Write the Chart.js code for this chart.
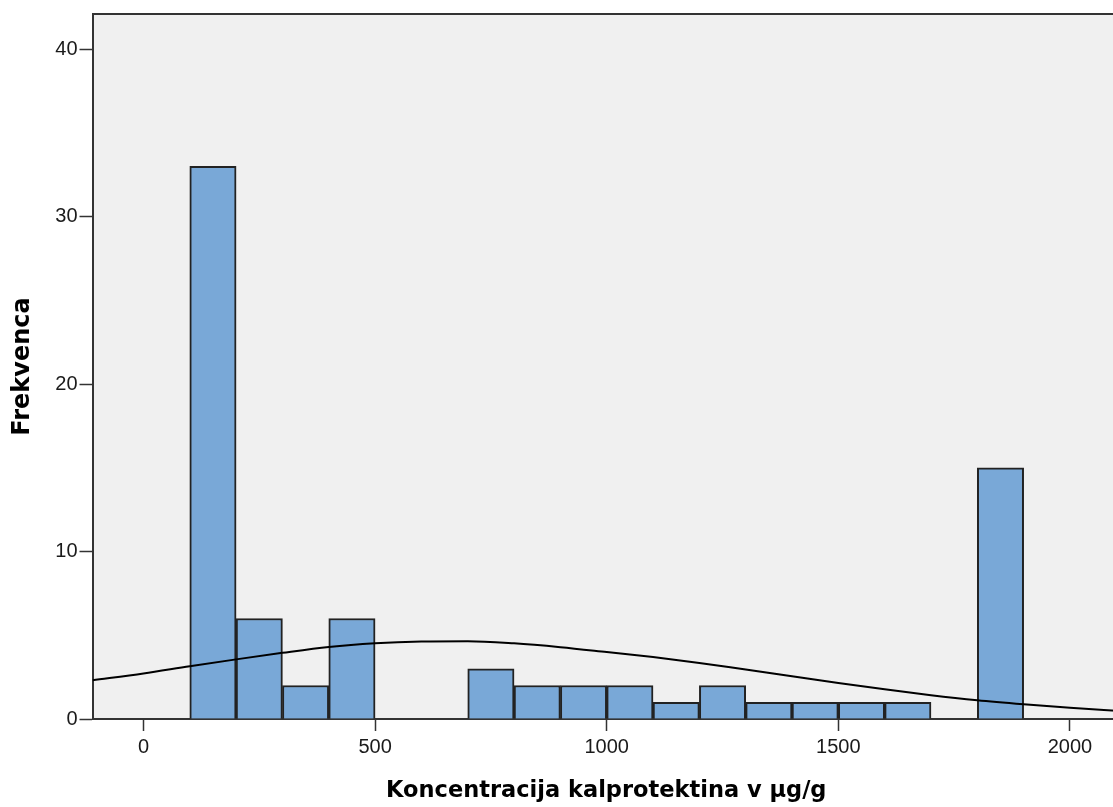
<!DOCTYPE html>
<html>
<head>
<meta charset="utf-8">
<script src="https://cdn.jsdelivr.net/npm/chart.js@4/dist/chart.umd.min.js"></script>
<style>
  body { margin: 0; overflow: hidden; background: #fff; }
  #wrap { width: 1120px; height: 807px; position: relative; }
</style>
</head>
<body>
<div id="wrap"><canvas id="chart"></canvas></div>
<script>
// histogram bins (lower edge) and frequencies
const binStart = [100, 200, 300, 400, 700, 800, 900, 1000, 1100, 1200, 1300, 1400, 1500, 1600, 1800];
const counts = [33, 6, 2, 6, 3, 2, 2, 2, 1, 2, 1, 1, 1, 1, 15];
const binWidth = 100;

// normal curve
const curveX = [-110, 0, 100, 200, 300, 400, 500, 600, 700, 800, 900, 1000, 1100, 1200, 1300, 1400, 1500, 1600, 1700, 1800, 1900, 2000, 2110];
const curveY = [2.31, 2.72, 3.15, 3.56, 3.95, 4.3, 4.52, 4.63, 4.65, 4.52, 4.29, 4.0, 3.7, 3.35, 2.95, 2.55, 2.15, 1.77, 1.42, 1.12, 0.88, 0.67, 0.48];

const xTicks = [0, 500, 1000, 1500, 2000];
const yTicks = [0, 10, 20, 30, 40];

const xTitle = 'Koncentracija kalprotektina v µg/g';
const yTitle = 'Frekvenca';

const bars = binStart.map((b, i) => ({ x: b + binWidth / 2, y: counts[i] }));
const curve = curveX.map((x, i) => ({ x: x, y: curveY[i] }));

// grey plot background and top frame line
const frame = {
    id: 'frame',
    beforeDraw(chart) {
        const a = chart.chartArea;
        const ctx = chart.ctx;
        ctx.save();
        ctx.fillStyle = '#f0f0f0';
        ctx.fillRect(a.left, a.top, a.right - a.left, a.bottom - a.top);
        ctx.restore();
    },
    afterDraw(chart) {
        const a = chart.chartArea;
        const ctx = chart.ctx;
        ctx.save();
        ctx.strokeStyle = '#333';
        ctx.lineWidth = 2;
        ctx.beginPath();
        ctx.moveTo(a.left, a.top);
        ctx.lineTo(a.right + 5, a.top);
        ctx.stroke();
        ctx.restore();
    }
};

new Chart(document.getElementById('chart'), {
    type: 'bar',
    data: {
        datasets: [{
            type: 'line',
            data: curve,
            borderColor: '#000',
            borderWidth: 2,
            pointRadius: 0,
            cubicInterpolationMode: 'monotone',
            order: 0
        }, {
            type: 'bar',
            data: bars,
            backgroundColor: '#79a8d7',
            borderColor: '#222',
            borderWidth: 2,
            barPercentage: 1,
            categoryPercentage: 1,
            order: 1
        }]
    },
    options: {
        responsive: true,
        maintainAspectRatio: false,
        animation: false,
        layout: { padding: 0 },
        plugins: { legend: { display: false }, tooltip: { enabled: false } },
        scales: {
            x: {
                type: 'linear',
                min: -110,
                max: 2108,
                offset: false,
                afterFit: s => { s.height = 88; },
                afterBuildTicks: s => { s.ticks = xTicks.map(v => ({ value: v })); },
                grid: { offset: false, drawOnChartArea: false, drawTicks: true, tickLength: 12, tickWidth: 1.5, tickColor: '#333' },
                border: { display: true, color: '#333', width: 2 },
                ticks: {
                    padding: 4,
                    maxRotation: 0,
                    color: '#1a1a1a',
                    font: { family: 'Liberation Sans', size: 20 },
                    callback: v => String(v)
                },
                title: {
                    display: true,
                    text: xTitle,
                    color: '#000',
                    padding: { top: 0, bottom: 2 },
                    font: { family: 'DejaVu Sans', size: 22.5, weight: 'bold' }
                }
            },
            y: {
                min: 0,
                max: 42.1,
                afterFit: s => { s.width = 92.5; },
                afterBuildTicks: s => { s.ticks = yTicks.map(v => ({ value: v })); },
                grid: { drawOnChartArea: false, drawTicks: true, tickLength: 13, tickWidth: 1.5, tickColor: '#333' },
                border: { display: true, color: '#333', width: 2 },
                ticks: {
                    padding: 2,
                    color: '#1a1a1a',
                    font: { family: 'Liberation Sans', size: 20 },
                    callback: v => String(v)
                },
                title: {
                    display: true,
                    text: yTitle,
                    color: '#000',
                    padding: { top: 8, bottom: 0 },
                    font: { family: 'DejaVu Sans', size: 24, weight: 'bold' }
                }
            }
        }
    },
    plugins: [frame]
});
</script>
</body>
</html>
